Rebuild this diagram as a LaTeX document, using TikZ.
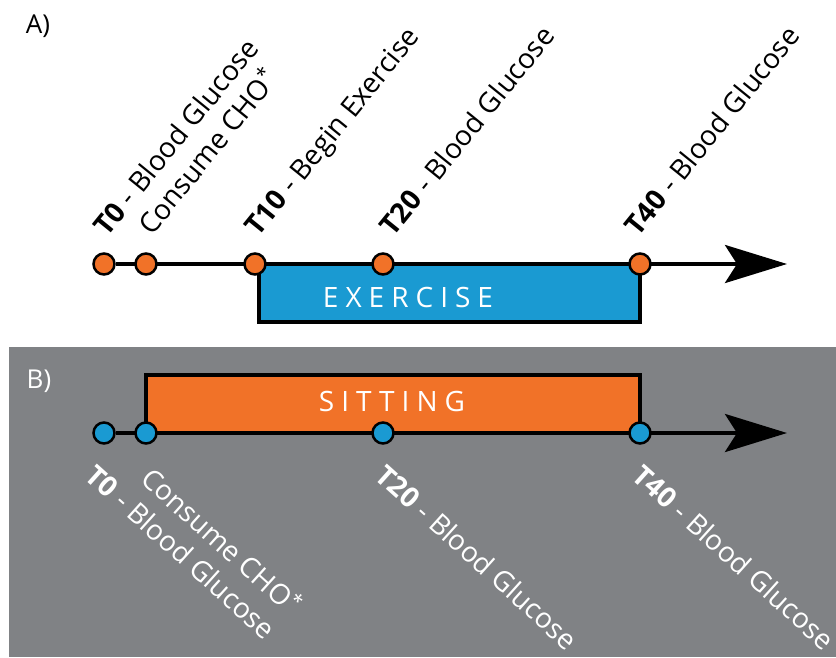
\documentclass[tikz,border=0pt]{standalone}
\usepackage{fontspec}
\setmainfont{Open Sans}
\usetikzlibrary{arrows.meta,backgrounds}
\definecolor{dotorange}{RGB}{241,114,40}
\definecolor{dotblue}{RGB}{26,154,210}
\definecolor{panelgray}{RGB}{128,130,133}

\begin{document}
\begin{tikzpicture}
[
x=1pt, y=-1pt,
graph orangevertex/.style={circle,draw,fill=dotorange,line width=2.5pt,minimum size=21pt,inner sep=0pt},
graph bluevertex/.style={circle,draw,fill=dotblue,line width=2.5pt,minimum size=21pt,inner sep=0pt},
graph axis/.style={line width=4pt,-{Stealth[length=62pt,width=38pt,inset=12pt]}},
graph box/.style={draw,line width=4.5pt},
graph boxtext/.style={font=\fontsize{28}{30}\selectfont\addfontfeature{LetterSpace=25},text=white},
graph uptext/.style={font=\fontsize{28}{30}\selectfont, rotate=51, anchor=base west, inner sep=0pt},
graph downtext/.style={font=\fontsize{28}{30}\selectfont, rotate=-42, anchor=north west, inner sep=0pt, text=white},
graph paneltext/.style={font=\fontsize{26}{28}\selectfont}
]
\useasboundingbox (0,0) rectangle (836,657);

% panel A
\node[graph paneltext] (PA) at (38,26) {A)};
\node[graph orangevertex] (A0) at (104,264) {};
\node[graph orangevertex] (A1) at (146,264) {};
\node[graph orangevertex] (A10) at (255,264) {};
\node[graph orangevertex] (A20) at (383,264) {};
\node[graph orangevertex] (A40) at (640,264) {};
\coordinate (Aend) at (787,264);
\coordinate (ExA1) at (259,264);
\coordinate (ExA2) at (640,322);
\node[graph boxtext] (Ex) at (408,297) {EXERCISE};

\node[graph uptext] (LA0) at (107,238) {\textbf{T0} - Blood Glucose};
\node[graph uptext] (LA1) at (152,237) {Consume CHO\textsuperscript{*}};
\node[graph uptext] (LA10) at (258,238) {\textbf{T10} - Begin Exercise};
\node[graph uptext] (LA20) at (393,238) {\textbf{T20} - Blood Glucose};
\node[graph uptext] (LA40) at (638,238) {\textbf{T40} - Blood Glucose};

% panel B
\node[graph paneltext, text=white] (PB) at (39,381) {B)};
\node[graph bluevertex] (B0) at (104,433) {};
\node[graph bluevertex] (B1) at (146,433) {};
\node[graph bluevertex] (B20) at (383,433) {};
\node[graph bluevertex] (B40) at (640,433) {};
\coordinate (Bend) at (787,433);
\coordinate (SiB1) at (146,375);
\coordinate (SiB2) at (640,433);
\node[graph boxtext] (Si) at (392,401) {SITTING};

\node[graph downtext] (LB0) at (98,462) {\textbf{T0} - Blood Glucose};
\node[graph downtext] (LB1) at (155,463) {Consume CHO\textsuperscript{*}};
\node[graph downtext] (LB20) at (388,462) {\textbf{T20} - Blood Glucose};
\node[graph downtext] (LB40) at (645,462) {\textbf{T40} - Blood Glucose};

% boxes and axes
\begin{scope}[on background layer]
\fill[white] (0,0) rectangle (836,657);
\fill[panelgray] (9,347) rectangle (836,657);
\draw[graph box, fill=dotblue] (ExA1) rectangle (ExA2);
\draw[graph box, fill=dotorange] (SiB1) rectangle (SiB2);
\draw[graph axis] (A0) -- (Aend);
\draw[graph axis] (B0) -- (Bend);
\end{scope}

\end{tikzpicture}
\end{document}
